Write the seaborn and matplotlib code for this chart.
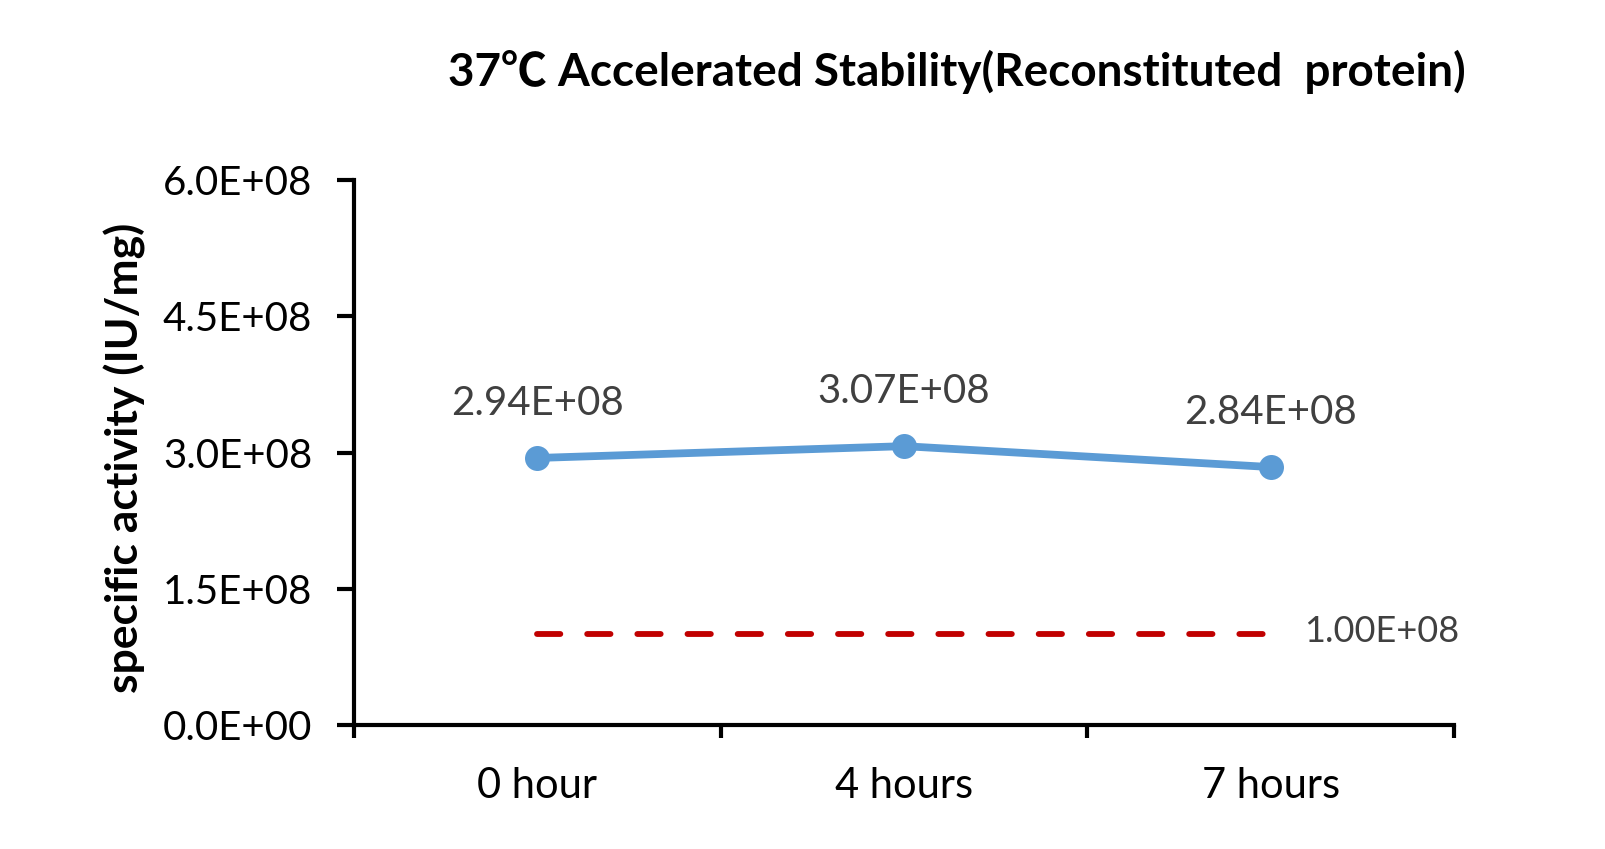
import matplotlib
matplotlib.use("Agg")
import matplotlib.pyplot as plt
import seaborn as sns
import numpy as np

# data
categories = ["0 hour", "4 hours", "7 hours"]
activity = [2.94e8, 3.07e8, 2.84e8]
activity_labels = ["2.94E+08", "3.07E+08", "2.84E+08"]
threshold = 1.0e8
threshold_label = "1.00E+08"
y_ticks = [0, 1.5e8, 3.0e8, 4.5e8, 6.0e8]
y_tick_labels = ["0.0E+00", "1.5E+08", "3.0E+08", "4.5E+08", "6.0E+08"]

sns.set_theme(style="white")
plt.rcParams["font.family"] = ["Lato", "DejaVu Sans"]

fig = plt.figure(figsize=(16.06, 8.49), dpi=100)
ax = fig.add_axes([0.2204, 0.146, 0.685, 0.642])

pos = np.arange(len(categories))
sns.lineplot(x=pos, y=activity, ax=ax, color="#5B9BD5", linewidth=5.6,
             marker="o", markersize=18, markeredgewidth=0, zorder=3)
sns.lineplot(x=pos, y=[threshold] * len(categories), ax=ax, color="#C00000",
             linewidth=4.2, dashes=False, zorder=2)
ax.lines[-1].set_dashes((4.0, 4.6))
ax.lines[-1].set_dash_capstyle("round")

for x, y, lab in zip(pos, activity, activity_labels):
    ax.annotate(lab, (x, y), xytext=(0, 39), textcoords="offset points",
                ha="center", va="center", fontsize=29, color="#404040")
ax.annotate(threshold_label, (pos[-1], threshold), xytext=(24, 2),
            textcoords="offset points", ha="left", va="center",
            fontsize=26, color="#404040")

ax.set_xlim(-0.5, len(categories) - 0.5)
ax.set_ylim(0, 6.0e8)
ax.set_yticks(y_ticks)
ax.set_yticklabels(y_tick_labels, fontsize=29, color="black")
ax.set_xticks(np.arange(len(categories) + 1) - 0.5)
ax.set_xticklabels([])
ax.set_xticks(pos, minor=True)
ax.set_xticklabels(categories, minor=True, fontsize=30, color="black")
ax.tick_params(axis="x", which="major", direction="out", length=9, width=3,
               colors="black", bottom=True)
ax.tick_params(axis="x", which="minor", length=0, pad=30)
ax.tick_params(axis="y", direction="out", length=12, width=3,
               colors="black", left=True, pad=18)

for side in ["top", "right"]:
    ax.spines[side].set_visible(False)
for side in ["left", "bottom"]:
    ax.spines[side].set_linewidth(3)
    ax.spines[side].set_color("black")

ax.set_ylabel("specific activity (IU/mg)", fontsize=32, fontweight="bold",
              color="black")
ax.yaxis.set_label_coords(-0.189, 0.49)
fig.text(0.596, 0.915, "37\u2103 Accelerated Stability(Reconstituted  protein)",
         ha="center", va="center", fontsize=33, fontweight="bold",
         color="black", family=["Lato", "Noto Sans CJK SC", "DejaVu Sans"])

fig.savefig("out.png", dpi=100, facecolor="white")
